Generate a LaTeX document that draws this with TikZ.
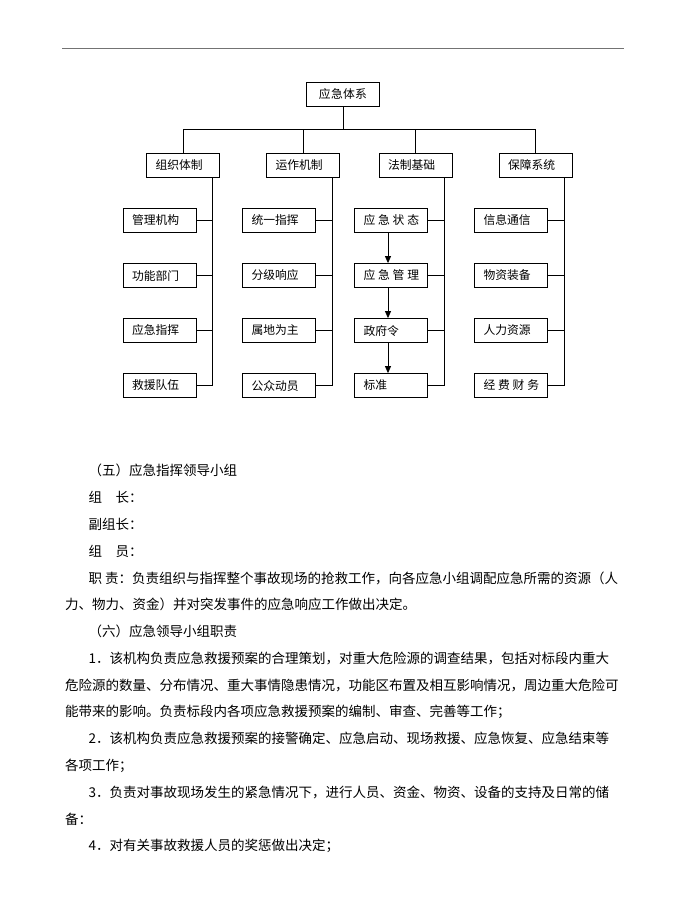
\documentclass[tikz,border=0pt]{standalone}
\usepackage{fontspec}
\setmainfont{Noto Sans CJK SC}
\usetikzlibrary{arrows.meta}
\XeTeXlinebreaklocale "zh"
\XeTeXlinebreakskip=0pt plus 2pt
\newcommand\diagfont{\fontsize{11.8}{14}\selectfont}
\newcommand\bodyfont{\fontsize{13.5}{16}\selectfont}
\newcommand\spaced[4]{\mbox{#1\hspace{2.8pt}#2\hspace{2.8pt}#3\hspace{2.8pt}#4}}

\begin{document}
\begin{tikzpicture}[x=1pt, y=-1pt,
    box/.style={draw, line width=.8pt, minimum height=24pt, text width=55pt,
                inner xsep=9pt, inner ysep=0pt, align=left, font=\diagfont},
    wire/.style={line width=.8pt},
    flow/.style={wire, -{Triangle[width=6pt,length=7pt]}},
    txt/.style={anchor=base west, inner sep=0pt, font=\bodyfont},
    fulltxt/.style={txt, text width=556pt, align=justify}]
    \useasboundingbox (0,0) rectangle (700,905);
    % header rule
    \coordinate (hl) at (62,48.7);
    \coordinate (hr) at (624,48.7);
    \draw[black!55, line width=1.3pt] (hl) -- (hr);

    % the tree
    \node[box, align=center] (top) at (343,94) {应急体系};
    \node[box] (zz) at (183,165) {组织体制};
    \node[box] (yz) at (303,165) {运作机制};
    \node[box] (fz) at (415.5,165) {法制基础};
    \node[box] (bz) at (535.5,165) {保障系统};

    \node[box] (zz1) at (159.5,220) {管理机构};
    \node[box] (zz2) at (159.5,275.5) {功能部门};
    \node[box] (zz3) at (159.5,330.5) {应急指挥};
    \node[box] (zz4) at (159.5,385.5) {救援队伍};
    \node[box] (yz1) at (279,220) {统一指挥};
    \node[box] (yz2) at (279,275.5) {分级响应};
    \node[box] (yz3) at (279,330.5) {属地为主};
    \node[box] (yz4) at (279,385.5) {公众动员};
    \node[box] (fz1) at (391,220) {\spaced{应}{急}{状}{态}};
    \node[box] (fz2) at (391,275.5) {\spaced{应}{急}{管}{理}};
    \node[box] (fz3) at (391,330.5) {政府令};
    \node[box] (fz4) at (391,385.5) {标准};
    \node[box] (bz1) at (511,220) {信息通信};
    \node[box] (bz2) at (511,275.5) {物资装备};
    \node[box] (bz3) at (511,330.5) {人力资源};
    \node[box] (bz4) at (511,385.5) {\spaced{经}{费}{财}{务}};

    \coordinate (bus) at (0,129);
    \draw[wire] (top.south) -- (top.south |- bus);
    \draw[wire] (zz.north |- bus) -- (bz.north |- bus);
    \foreach \g in {zz,yz,fz,bz} {
        \draw[wire] (\g.north |- bus) -- (\g.north);
        \coordinate (\g s) at ([xshift=-8pt]\g.south east);
        \draw[wire] (\g s) |- (\g4.east);
        \foreach \i in {1,2,3}
            \draw[wire] (\g\i.east) -- (\g\i.east -| \g s);
    }
    \foreach \a/\b in {fz1/fz2, fz2/fz3, fz3/fz4}
        \draw[flow] ([xshift=-3pt]\a.south) -- ([xshift=-3pt]\b.north);

    % text below
    \node[txt] (t0) at (88.5,475.8) {（五）应急指挥领导小组};
    \node[txt] (t1) at (88.5,502.6) {组　长：};
    \node[txt] (t2) at (88.5,529.4) {副组长：};
    \node[txt] (t3) at (88.5,556.2) {组　员：};
    \node[fulltxt] (t4) at (65,583.0) {\parfillskip=0pt\hspace*{23.5pt}职 责：负责组织与指挥整个事故现场的抢救工作，向各应急小组调配应急所需的资源（人};
    \node[txt] (t5) at (65,609.8) {力、物力、资金）并对突发事件的应急响应工作做出决定。};
    \node[txt] (t6) at (88.5,636.5) {（六）应急领导小组职责};
    \node[fulltxt] (t7) at (65,663.3) {\parfillskip=0pt\hspace*{23.5pt}1．该机构负责应急救援预案的合理策划，对重大危险源的调查结果，包括对标段内重大};
    \node[fulltxt] (t8) at (65,690.1) {\parfillskip=0pt 危险源的数量、分布情况、重大事情隐患情况，功能区布置及相互影响情况，周边重大危险可};
    \node[txt] (t9) at (65,716.9) {能带来的影响。负责标段内各项应急救援预案的编制、审查、完善等工作；};
    \node[fulltxt] (t10) at (65,743.7) {\parfillskip=0pt\hspace*{23.5pt}2．该机构负责应急救援预案的接警确定、应急启动、现场救援、应急恢复、应急结束等};
    \node[txt] (t11) at (65,770.5) {各项工作；};
    \node[fulltxt] (t12) at (65,797.3) {\parfillskip=0pt\hspace*{23.5pt}3．负责对事故现场发生的紧急情况下，进行人员、资金、物资、设备的支持及日常的储};
    \node[txt] (t13) at (65,824.1) {备：};
    \node[txt] (t14) at (88.5,850.9) {4．对有关事故救援人员的奖惩做出决定；};
\end{tikzpicture}
\end{document}
